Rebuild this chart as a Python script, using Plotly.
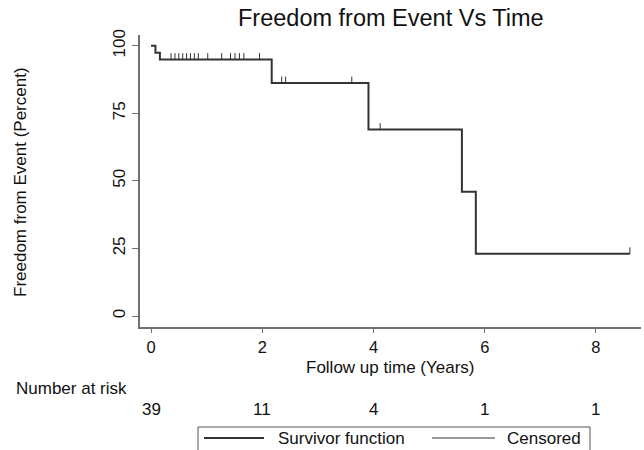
import plotly.graph_objects as go

# Kaplan-Meier step data
event_times = [0.0, 0.08, 0.16, 2.17, 3.91, 5.59, 5.84, 8.61]
survival = [100.0, 97.4, 94.9, 86.2, 69.0, 46.0, 23.0, 23.0]

# Censoring times
censor_times = [0.36, 0.43, 0.50, 0.57, 0.64, 0.71, 0.78, 0.85, 1.02,
                1.27, 1.43, 1.51, 1.59, 1.67, 1.95,
                2.35, 2.42, 3.61, 4.12, 8.61]

# Number at risk table
risk_times = [0, 2, 4, 6, 8]
risk_counts = [39, 11, 4, 1, 1]

x_ticks = [0, 2, 4, 6, 8]
y_ticks = [0, 25, 50, 75, 100]

FONT = "Liberation Sans, Arial, sans-serif"
LINE = "#333333"
AXIS = "#707070"

W, H = 644, 450
L, R, T, B = 140, 3, 35, 123
pw, ph = W - L - R, H - T - B


def surv_at(t):
    s = survival[0]
    for et, sv in zip(event_times, survival):
        if et <= t:
            s = sv
    return s


cx, cy = [], []
for t in censor_times:
    s = surv_at(t)
    cx += [t, t, None]
    cy += [s, s + 2.4, None]

fig = go.Figure()
fig.add_trace(go.Scatter(x=event_times, y=survival, mode="lines",
                         line=dict(shape="hv", color=LINE, width=2),
                         showlegend=False, hoverinfo="skip"))
fig.add_trace(go.Scatter(x=cx, y=cy, mode="lines",
                         line=dict(color=LINE, width=1),
                         showlegend=False, hoverinfo="skip"))

fig.update_layout(
    width=W, height=H,
    margin=dict(l=L, r=R, t=T, b=B),
    paper_bgcolor="white", plot_bgcolor="white",
    font=dict(family=FONT, size=17, color="#111111"),
    xaxis=dict(range=[-0.198, 8.81], tickvals=x_ticks, ticks="outside",
               ticklen=4, tickcolor=AXIS, showline=True, linecolor=AXIS,
               linewidth=1.5, showgrid=False, zeroline=False,
               tickfont=dict(size=16.5), fixedrange=True),
    yaxis=dict(range=[-4.07, 104.0], tickvals=y_ticks, ticks="outside",
               ticklen=6, tickcolor=AXIS, showline=True, linecolor=AXIS,
               linewidth=1.5, showgrid=False, zeroline=False,
               tickangle=-90, tickfont=dict(size=17), fixedrange=True),
    showlegend=False,
)


def py(p):
    return (H - B - p) / ph


def px(p):
    return (p - L) / pw


ann = []
ann.append(dict(text="Freedom from Event Vs Time", xref="paper", yref="paper",
                x=px(391), y=py(18), xanchor="center", yanchor="middle",
                showarrow=False, font=dict(size=23.5)))
ann.append(dict(text="Freedom from Event (Percent)", xref="paper", yref="paper",
                x=px(20), y=py(182), xanchor="center", yanchor="middle",
                textangle=-90, showarrow=False, font=dict(size=17)))
ann.append(dict(text="Follow up time (Years)", xref="paper", yref="paper",
                x=px(390), y=py(367), xanchor="center", yanchor="middle",
                showarrow=False, font=dict(size=17)))
ann.append(dict(text="Number at risk", xref="paper", yref="paper",
                x=px(14), y=py(388), xanchor="left", yanchor="middle",
                showarrow=False, font=dict(size=17)))
for t, n in zip(risk_times, risk_counts):
    ann.append(dict(text=str(n), xref="x", yref="paper", x=t, y=py(409),
                    xanchor="center", yanchor="middle", showarrow=False,
                    font=dict(size=17)))
ann.append(dict(text="Survivor function", xref="paper", yref="paper",
                x=px(276), y=py(438), xanchor="left", yanchor="middle",
                showarrow=False, font=dict(size=17)))
ann.append(dict(text="Censored", xref="paper", yref="paper",
                x=px(505), y=py(438), xanchor="left", yanchor="middle",
                showarrow=False, font=dict(size=17)))
fig.update_layout(annotations=ann)

shapes = [
    dict(type="rect", xref="paper", yref="paper", x0=px(198), x1=px(590),
         y0=py(470), y1=py(427), line=dict(color="#555555", width=1),
         fillcolor="rgba(0,0,0,0)"),
    dict(type="line", xref="paper", yref="paper", x0=px(204), x1=px(264),
         y0=py(438), y1=py(438), line=dict(color=LINE, width=2)),
    dict(type="line", xref="paper", yref="paper", x0=px(432), x1=px(495),
         y0=py(438), y1=py(438), line=dict(color=LINE, width=1)),
]
fig.update_layout(shapes=shapes)

fig.write_html("out.html", config={"displayModeBar": False},
               post_script="document.body.style.margin='0px';")
